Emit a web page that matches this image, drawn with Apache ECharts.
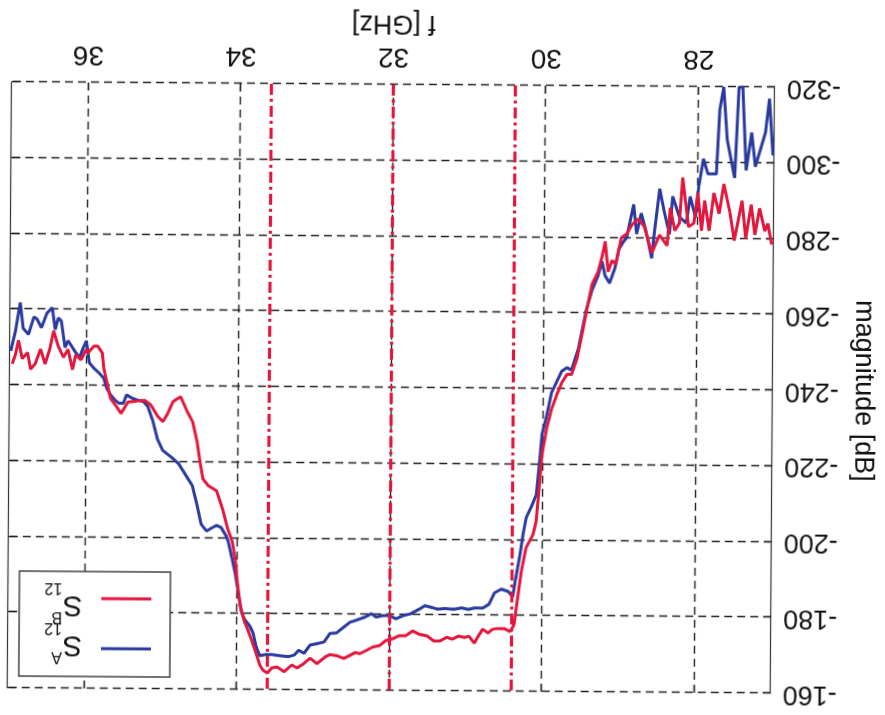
<!DOCTYPE html>
<html><head><meta charset="utf-8">
<script src="https://cdn.jsdelivr.net/npm/echarts@6.0.0/dist/echarts.min.js"></script>
<style>
html,body{margin:0;padding:0;background:#fff;overflow:hidden}
#c{width:885px;height:715px;transform:rotate(180.4deg);transform-origin:50% 50%;}
</style>
</head><body><div id="c"></div><script>
// ---- data ----
const xTicks = [28, 30, 32, 34, 36];
const bandLines = [30.4, 32.0, 33.6];

const fA = [27.02,27.07,27.12,27.25,27.30,27.37,27.42,27.47,27.52,27.62,27.67,27.72,27.76,27.82,27.87,27.93,27.99,28.03,28.10,28.15,28.24,28.33,28.37,28.44,28.50,28.57,28.60,28.68,28.74,28.80,28.84,28.93,28.97,29.03,29.08,29.15,29.21,29.25,29.30,29.38,29.45,29.50,29.55,29.64,29.70,29.77,29.83,29.90,29.96,30.02,30.05,30.09,30.15,30.22,30.26,30.30,30.36,30.39,30.45,30.54,30.63,30.70,30.78,30.89,30.97,31.06,31.16,31.28,31.38,31.44,31.54,31.61,31.73,31.83,31.92,32.00,32.09,32.18,32.24,32.32,32.44,32.52,32.60,32.70,32.78,32.86,32.95,33.04,33.12,33.19,33.25,33.32,33.42,33.54,33.62,33.70,33.75,33.79,33.83,33.90,33.94,33.98,34.03,34.07,34.12,34.15,34.22,34.28,34.35,34.41,34.48,34.54,34.60,34.67,34.78,34.88,34.99,35.06,35.12,35.19,35.25,35.32,35.40,35.47,35.51,35.57,35.62,35.68,35.73,35.77,35.83,35.90,35.96,36.00,36.04,36.09,36.15,36.24,36.28,36.33,36.37,36.41,36.45,36.52,36.59,36.65,36.69,36.76,36.83,36.87,36.93,36.99];
const magA = [-302,-317,-308,-299,-308,-298,-320,-320,-296,-306,-320,-314,-297,-297,-297,-301,-293.5,-285.6,-291,-284,-285.6,-291,-281,-287,-293,-281,-274.6,-282,-286.5,-281,-288.8,-280,-279,-277,-272,-268,-270,-273.7,-270,-266,-261,-256,-250.8,-245,-245.6,-244.6,-242,-239,-233,-228,-220.8,-212,-209,-206,-201.5,-196,-189,-185,-186.4,-187,-186,-183,-182,-182,-181.6,-182,-181.6,-181.8,-181.6,-182,-182.5,-181.6,-180.3,-179.8,-179,-179.8,-179.8,-179.4,-180.3,-179.4,-178.5,-178,-176.7,-175.1,-175,-172.7,-172.3,-171.9,-169.7,-170.5,-169.2,-168.8,-169,-169.3,-169.3,-169,-171.5,-175,-176.7,-178.5,-180.3,-184.7,-190.8,-194.4,-198.8,-200.5,-202.8,-203.3,-202.5,-201.8,-203.6,-209,-213.8,-216,-219.5,-221.3,-223,-226,-230.6,-234.6,-235.9,-236.2,-236.8,-237.6,-235.4,-235.4,-236.2,-237.6,-239.3,-242,-243.3,-244.6,-246,-251.8,-250,-247.3,-249,-251.8,-250,-257,-257.8,-254.7,-260.5,-259,-255.2,-257.5,-258,-253.4,-255,-261.8,-254.3,-249];

const fB = [27.03,27.08,27.12,27.19,27.25,27.30,27.37,27.42,27.52,27.58,27.66,27.72,27.79,27.85,27.91,27.95,28.00,28.05,28.12,28.20,28.24,28.30,28.36,28.40,28.50,28.60,28.70,28.78,28.86,28.93,29.00,29.07,29.12,29.17,29.21,29.25,29.30,29.38,29.45,29.50,29.57,29.64,29.70,29.77,29.83,29.90,29.96,30.02,30.05,30.09,30.13,30.22,30.28,30.32,30.37,30.42,30.50,30.59,30.65,30.71,30.78,30.84,30.89,30.96,31.02,31.10,31.18,31.25,31.34,31.42,31.51,31.62,31.70,31.79,31.88,31.96,32.05,32.13,32.22,32.31,32.39,32.45,32.52,32.60,32.70,32.78,32.84,32.95,33.04,33.12,33.21,33.28,33.38,33.47,33.54,33.60,33.66,33.70,33.75,33.81,33.87,33.90,33.96,34.00,34.03,34.07,34.13,34.20,34.28,34.39,34.46,34.50,34.54,34.60,34.67,34.76,34.86,34.93,34.99,35.06,35.15,35.23,35.34,35.45,35.54,35.60,35.68,35.77,35.79,35.85,35.90,35.98,36.00,36.07,36.14,36.18,36.24,36.30,36.37,36.43,36.48,36.54,36.60,36.67,36.73,36.77,36.84,36.89,36.93,36.97];
const magB = [-278.5,-284,-282,-288,-281,-289,-280,-290,-279.5,-287,-294.4,-286.5,-292,-282,-290,-282,-292,-284,-283,-296,-284,-282,-288,-278,-280.8,-276,-283,-285,-283.5,-281,-280,-273,-274,-271,-279,-275,-271,-267.6,-260.5,-255,-248,-243.8,-243.8,-241.5,-238.5,-234.5,-229.6,-222.6,-214.7,-205,-201.5,-198,-191.7,-185.6,-177.7,-175.8,-176.6,-176.6,-176.4,-175.4,-176.4,-174.5,-172.7,-174.5,-174.2,-174.5,-173.7,-174.2,-173.2,-173.2,-174.5,-175,-175.8,-174.5,-174.5,-173.7,-173.2,-171.9,-171.5,-170.5,-169.7,-170,-169.2,-168.4,-169.2,-169.4,-168.8,-167,-168.4,-167,-165.8,-166.6,-164.8,-166,-165.8,-164.4,-165.2,-166.6,-169.7,-173.2,-176.4,-177.7,-182,-188.3,-194.4,-199,-202.3,-207.6,-212.4,-213.8,-215.5,-220,-225.3,-230.6,-233.2,-237.2,-235.9,-232.7,-230.6,-232,-235,-236.2,-236,-235.7,-232.7,-234.5,-236.7,-244.6,-248.6,-250.4,-250.4,-248.6,-249.5,-246.8,-248,-244.2,-249.5,-247.4,-250.4,-254.4,-249.5,-245.6,-249.5,-245.6,-244.2,-248.6,-247,-251.8,-248,-245.6];

const yMin = -320, yMax = -160, yStep = 20;
const xMin = 27, xMax = 37;
// ----------------------------------------

const FONT = "'Liberation Sans', Arial, Helvetica, sans-serif";
const BLUE = '#2b3a9f', RED = '#e3173d';
const chart = echarts.init(document.getElementById('c'), null, {renderer: 'canvas'});

const gridDash = {type: [8, 5], color: '#222', width: 1.4};
const tickStyle = {color: '#222', width: 1.3};

function legendRow(label, sup, color, lineY, sY) {
  return [
    {type: 'line', shape: {x1: 732, y1: lineY, x2: 782, y2: lineY}, style: {stroke: color, lineWidth: 3}, z: 101},
    {type: 'text', x: 801, y: sY, style: {text: label, fontSize: 29, fontFamily: FONT, fill: '#111', align: 'left', verticalAlign: 'middle'}, z: 101},
    {type: 'text', x: 821, y: sY - 12, style: {text: sup, fontSize: 16, fontFamily: FONT, fill: '#111', align: 'left', verticalAlign: 'middle'}, z: 101},
    {type: 'text', x: 821, y: sY + 17, style: {text: '12', fontSize: 16, fontFamily: FONT, fill: '#111', align: 'left', verticalAlign: 'middle'}, z: 101}
  ];
}

const option = {
  animation: false,
  backgroundColor: '#fff',
  grid: {left: 102, right: 10, top: 24, bottom: 85, containLabel: false},
  xAxis: [{
    type: 'value', min: xMin, max: xMax, position: 'bottom',
    axisLine: {show: false},
    axisTick: {show: true, inside: true, length: 8, customValues: xTicks, lineStyle: tickStyle},
    axisLabel: {customValues: xTicks, fontSize: 28, fontFamily: FONT, color: '#111', margin: 14},
    splitLine: {show: true, lineStyle: gridDash},
    name: 'f [GHz]', nameLocation: 'middle', nameGap: 48,
    nameTextStyle: {fontSize: 27, fontFamily: FONT, color: '#111'}
  }, {
    type: 'value', min: xMin, max: xMax, position: 'top',
    axisLine: {show: false},
    axisTick: {show: true, inside: true, length: 8, customValues: xTicks, lineStyle: tickStyle},
    axisLabel: {show: false, customValues: xTicks},
    splitLine: {show: false}
  }],
  yAxis: [{
    type: 'value', min: yMin, max: yMax, interval: yStep, position: 'left',
    axisLine: {show: true, lineStyle: {color: '#333', width: 1.2}},
    axisTick: {show: true, inside: true, length: 8, lineStyle: tickStyle},
    axisLabel: {fontSize: 27, fontFamily: FONT, color: '#111', margin: 12},
    splitLine: {show: true, lineStyle: gridDash},
    name: 'magnitude [dB]', nameLocation: 'middle', nameGap: 70,
    nameTextStyle: {fontSize: 27, fontFamily: FONT, color: '#111'}
  }, {
    type: 'value', min: yMin, max: yMax, interval: yStep, position: 'right',
    axisLine: {show: true, lineStyle: {color: '#333', width: 1.2}},
    axisTick: {show: true, inside: true, length: 8, lineStyle: tickStyle},
    axisLabel: {show: false},
    splitLine: {show: false}
  }],
  series: [{
    name: 'SA12', type: 'line', showSymbol: false, symbol: 'none',
    data: fA.map((f, i) => [f, magA[i]]),
    lineStyle: {color: BLUE, width: 3}, itemStyle: {color: BLUE}, z: 3
  }, {
    name: 'SB12', type: 'line', showSymbol: false, symbol: 'none',
    data: fB.map((f, i) => [f, magB[i]]),
    lineStyle: {color: RED, width: 3}, itemStyle: {color: RED}, z: 4
  }, {
    name: 'band', type: 'line', data: [], z: 5,
    markLine: {
      silent: true, symbol: 'none', label: {show: false},
      lineStyle: {color: RED, width: 3.2, type: [11, 4, 3, 4]},
      data: bandLines.map(v => ({xAxis: v}))
    }
  }],
  graphic: [
    {type: 'rect', shape: {x: 713, y: 36, width: 151, height: 105}, style: {fill: '#fff', stroke: '#444', lineWidth: 1.5}, z: 100}
  ].concat(legendRow('S', 'A', BLUE, 64, 68)).concat(legendRow('S', 'B', RED, 114, 108))
};
chart.setOption(option);
</script></body></html>
